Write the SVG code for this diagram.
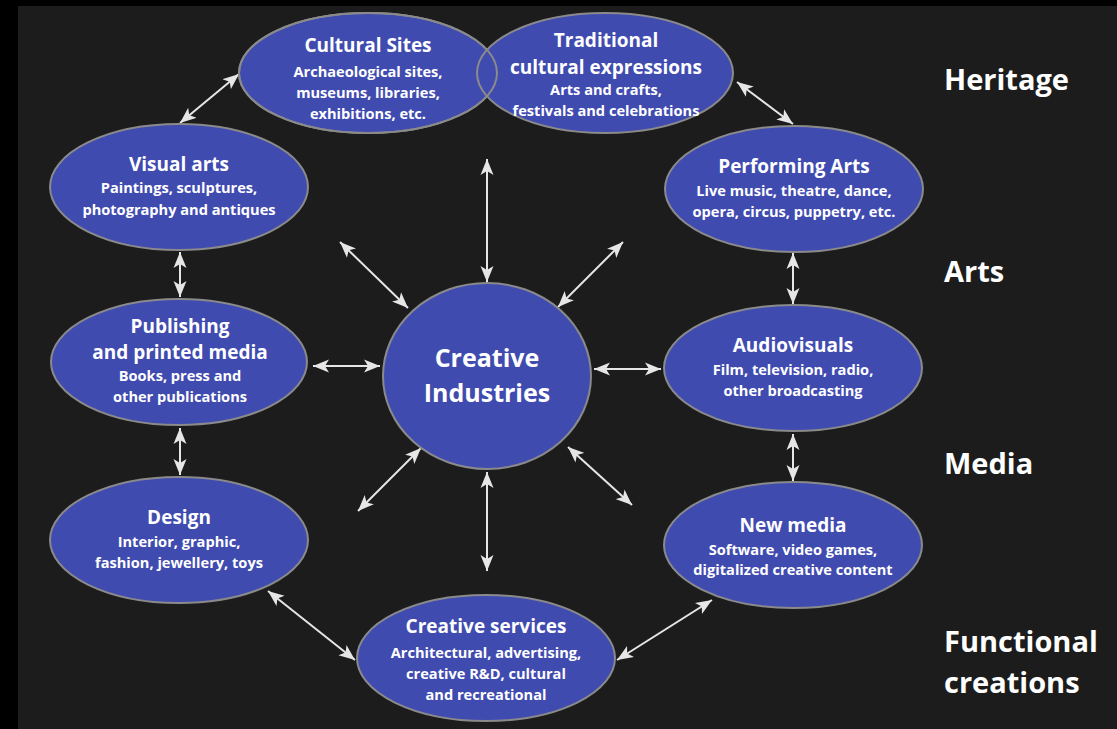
<svg xmlns="http://www.w3.org/2000/svg" width="1117" height="729" viewBox="0 0 1117 729">
<defs>
<style>
.node{fill:#404bb0;stroke:#8a8a8a;stroke-width:2}
.outline{fill:none;stroke:#8a8a8a;stroke-width:2}
.t{font-family:"Open Sans","DejaVu Sans",sans-serif;font-weight:700;fill:#ffffff;text-anchor:middle}
.h{font-size:19px}
.s{font-size:14.6px}
.c{font-size:25px}
.lab{font-family:"Open Sans","DejaVu Sans",sans-serif;font-weight:700;fill:#ffffff;font-size:29px}
.arr{stroke:#e6e6e6;stroke-width:2;fill:none;marker-start:url(#ah);marker-end:url(#ah)}
</style>
<marker id="ah" markerUnits="userSpaceOnUse" markerWidth="17" markerHeight="14" refX="16" refY="6.5" orient="auto-start-reverse" viewBox="0 0 17 13">
<path d="M0,0 L16,6.5 L0,13 L4,6.5 z" fill="#e6e6e6"/>
</marker>
</defs>
<rect x="0" y="0" width="1117" height="729" fill="#000"/>
<rect x="18" y="6" width="1099" height="723" fill="#1c1c1c"/>

<g id="connectors">
<line class="arr" x1="180" y1="123" x2="239" y2="74"/>
<line class="arr" x1="737" y1="82" x2="793" y2="124"/>
<line class="arr" x1="180" y1="252" x2="180" y2="297"/>
<line class="arr" x1="180" y1="428" x2="180" y2="475"/>
<line class="arr" x1="793" y1="253" x2="793" y2="304"/>
<line class="arr" x1="793" y1="434" x2="793" y2="481"/>
<line class="arr" x1="268" y1="591" x2="355" y2="660"/>
<line class="arr" x1="712" y1="600" x2="617" y2="660"/>
<line class="arr" x1="487" y1="159" x2="487" y2="282"/>
<line class="arr" x1="340" y1="242" x2="408" y2="308"/>
<line class="arr" x1="623" y1="242" x2="558" y2="307"/>
<line class="arr" x1="313" y1="366" x2="380" y2="366"/>
<line class="arr" x1="661" y1="369" x2="594" y2="369"/>
<line class="arr" x1="358" y1="511" x2="421" y2="448"/>
<line class="arr" x1="632" y1="505" x2="568" y2="447"/>
<line class="arr" x1="487" y1="472" x2="487" y2="571"/>
</g>

<g id="cultural-sites">
<ellipse class="node" cx="368" cy="73" rx="129" ry="60"/>
<text class="t h" x="368" y="52">Cultural Sites</text>
<text class="t s" x="368" y="77">Archaeological sites,</text>
<text class="t s" x="368" y="98">museums, libraries,</text>
<text class="t s" x="368" y="119">exhibitions, etc.</text>
</g>
<g id="traditional">
<ellipse class="node" cx="605" cy="73" rx="128" ry="60"/>
<ellipse class="outline" cx="368" cy="73" rx="129" ry="60"/>
<text class="t h" x="606" y="47">Traditional</text>
<text class="t h" x="606" y="74">cultural expressions</text>
<text class="t s" x="606" y="95">Arts and crafts,</text>
<text class="t s" x="606" y="116">festivals and celebrations</text>
</g>
<g id="visual-arts">
<ellipse class="node" cx="179" cy="187" rx="129" ry="63"/>
<text class="t h" x="179" y="171">Visual arts</text>
<text class="t s" x="179" y="193">Paintings, sculptures,</text>
<text class="t s" x="179" y="215">photography and antiques</text>
</g>
<g id="performing-arts">
<ellipse class="node" cx="794" cy="189" rx="129" ry="63"/>
<text class="t h" x="794" y="173">Performing Arts</text>
<text class="t s" x="794" y="196">Live music, theatre, dance,</text>
<text class="t s" x="794" y="217">opera, circus, puppetry, etc.</text>
</g>
<g id="publishing">
<ellipse class="node" cx="179" cy="362" rx="128" ry="63"/>
<text class="t h" x="180" y="333">Publishing</text>
<text class="t h" x="180" y="359">and printed media</text>
<text class="t s" x="180" y="381">Books, press and</text>
<text class="t s" x="180" y="402">other publications</text>
</g>
<g id="audiovisuals">
<ellipse class="node" cx="793" cy="368" rx="129" ry="63"/>
<text class="t h" x="793" y="352">Audiovisuals</text>
<text class="t s" x="793" y="375">Film, television, radio,</text>
<text class="t s" x="793" y="396">other broadcasting</text>
</g>
<g id="design">
<ellipse class="node" cx="179" cy="540" rx="129" ry="63"/>
<text class="t h" x="179" y="524">Design</text>
<text class="t s" x="179" y="547">Interior, graphic,</text>
<text class="t s" x="179" y="568">fashion, jewellery, toys</text>
</g>
<g id="new-media">
<ellipse class="node" cx="793" cy="545" rx="129" ry="63"/>
<text class="t h" x="793" y="532">New media</text>
<text class="t s" x="793" y="555">Software, video games,</text>
<text class="t s" x="793" y="575">digitalized creative content</text>
</g>
<g id="creative-services">
<ellipse class="node" cx="486" cy="658" rx="129" ry="63"/>
<text class="t h" x="486" y="633">Creative services</text>
<text class="t s" x="486" y="658">Architectural, advertising,</text>
<text class="t s" x="486" y="679">creative R&amp;D, cultural</text>
<text class="t s" x="486" y="700">and recreational</text>
</g>
<g id="creative-industries">
<ellipse class="node" cx="487" cy="376" rx="104" ry="93"/>
<text class="t c" x="487" y="367">Creative</text>
<text class="t c" x="487" y="402">Industries</text>
</g>

<g id="labels">
<text class="lab" x="944" y="90">Heritage</text>
<text class="lab" x="944" y="282">Arts</text>
<text class="lab" x="944" y="474">Media</text>
<text class="lab" x="944" y="652">Functional</text>
<text class="lab" x="944" y="693">creations</text>
</g>
</svg>
